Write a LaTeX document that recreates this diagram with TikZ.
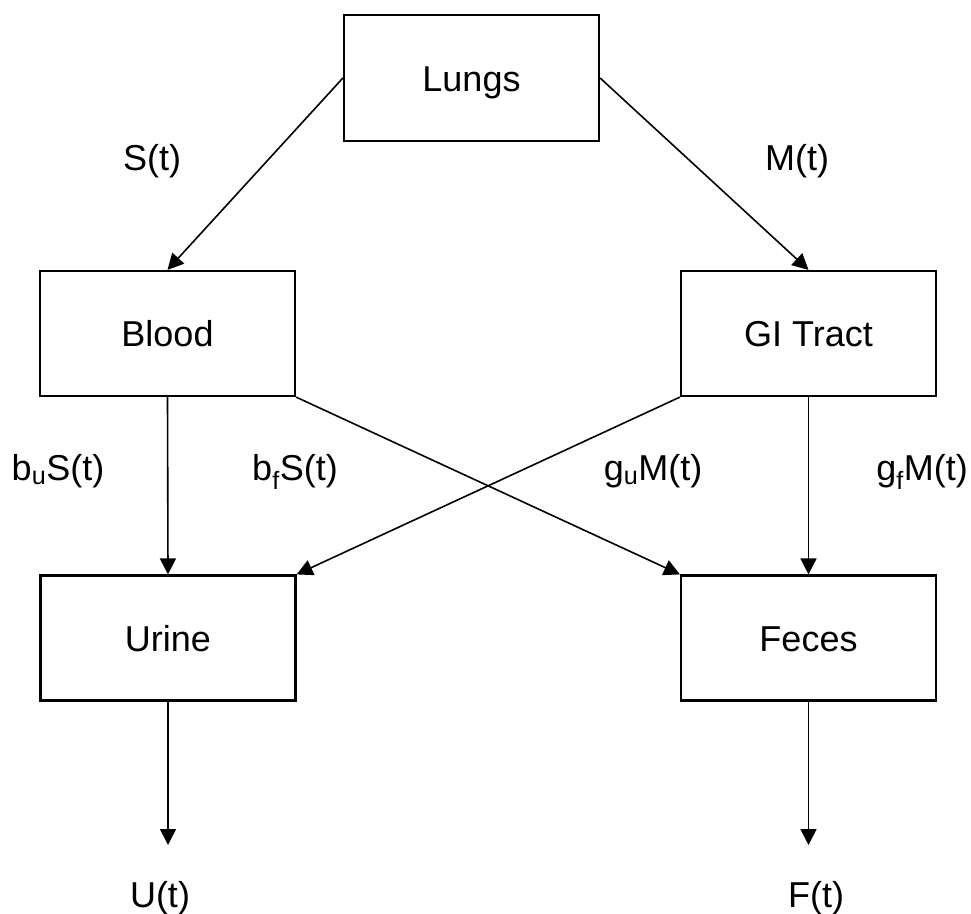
\documentclass[tikz,border=0pt]{standalone}
\usepackage{fontspec}
\setmainfont{Liberation Sans}
\usetikzlibrary{arrows.meta}
\begin{document}
\begin{tikzpicture}[x=1pt,y=-1pt,
  box/.style={draw,line width=2.2pt,rectangle,minimum width=255pt,minimum height=125pt,
    inner sep=0pt,text height=26pt,text depth=0pt,font=\fontsize{36}{43}\selectfont},
  lbl/.style={anchor=base,inner sep=0pt,font=\fontsize{36}{43}\selectfont},
  conn/.style={line width=1.6pt,-{Triangle[length=16pt,width=16pt]}},
  plain/.style={line width=1.6pt}]
\useasboundingbox (0,0) rectangle (971,913);
\node[box,minimum height=126pt] (lungs) at (471.5,78) {Lungs};
\node[box] (blood) at (167.5,333.5) {Blood};
\node[box] (gi) at (808.5,333.5) {GI Tract};
\node[box] (urine) at (168,638) {Urine};
\node[box] (feces) at (808.5,638) {Feces};
\coordinate (uend) at (168,845);
\coordinate (fend) at (808.5,845);
\draw[conn] (lungs.west) -- (blood.north);
\draw[conn] (lungs.east) -- (gi.north);
\draw[conn] (blood.south) -- (urine.north);
\draw[conn] (gi.south) -- (feces.north);
\draw[conn] (blood.south east) -- (feces.north west);
\draw[conn] (gi.south west) -- (urine.north east);
\draw[conn] (urine.south) -- (uend);
\draw[conn] (feces.south) -- (fend);
\node[lbl] (st) at (152,170) {S(t)};
\node[lbl] (mt) at (797,170) {M(t)};
\node[lbl] (bu) at (58,480) {b\textsubscript{u}S(t)};
\node[lbl] (bf) at (295,480) {b\textsubscript{f}S(t)};
\node[lbl] (gu) at (653,480) {g\textsubscript{u}M(t)};
\node[lbl] (gf) at (922,480) {g\textsubscript{f}M(t)};
\node[lbl] (ut) at (160,907) {U(t)};
\node[lbl] (ft) at (816,907) {F(t)};
\end{tikzpicture}
\end{document}
